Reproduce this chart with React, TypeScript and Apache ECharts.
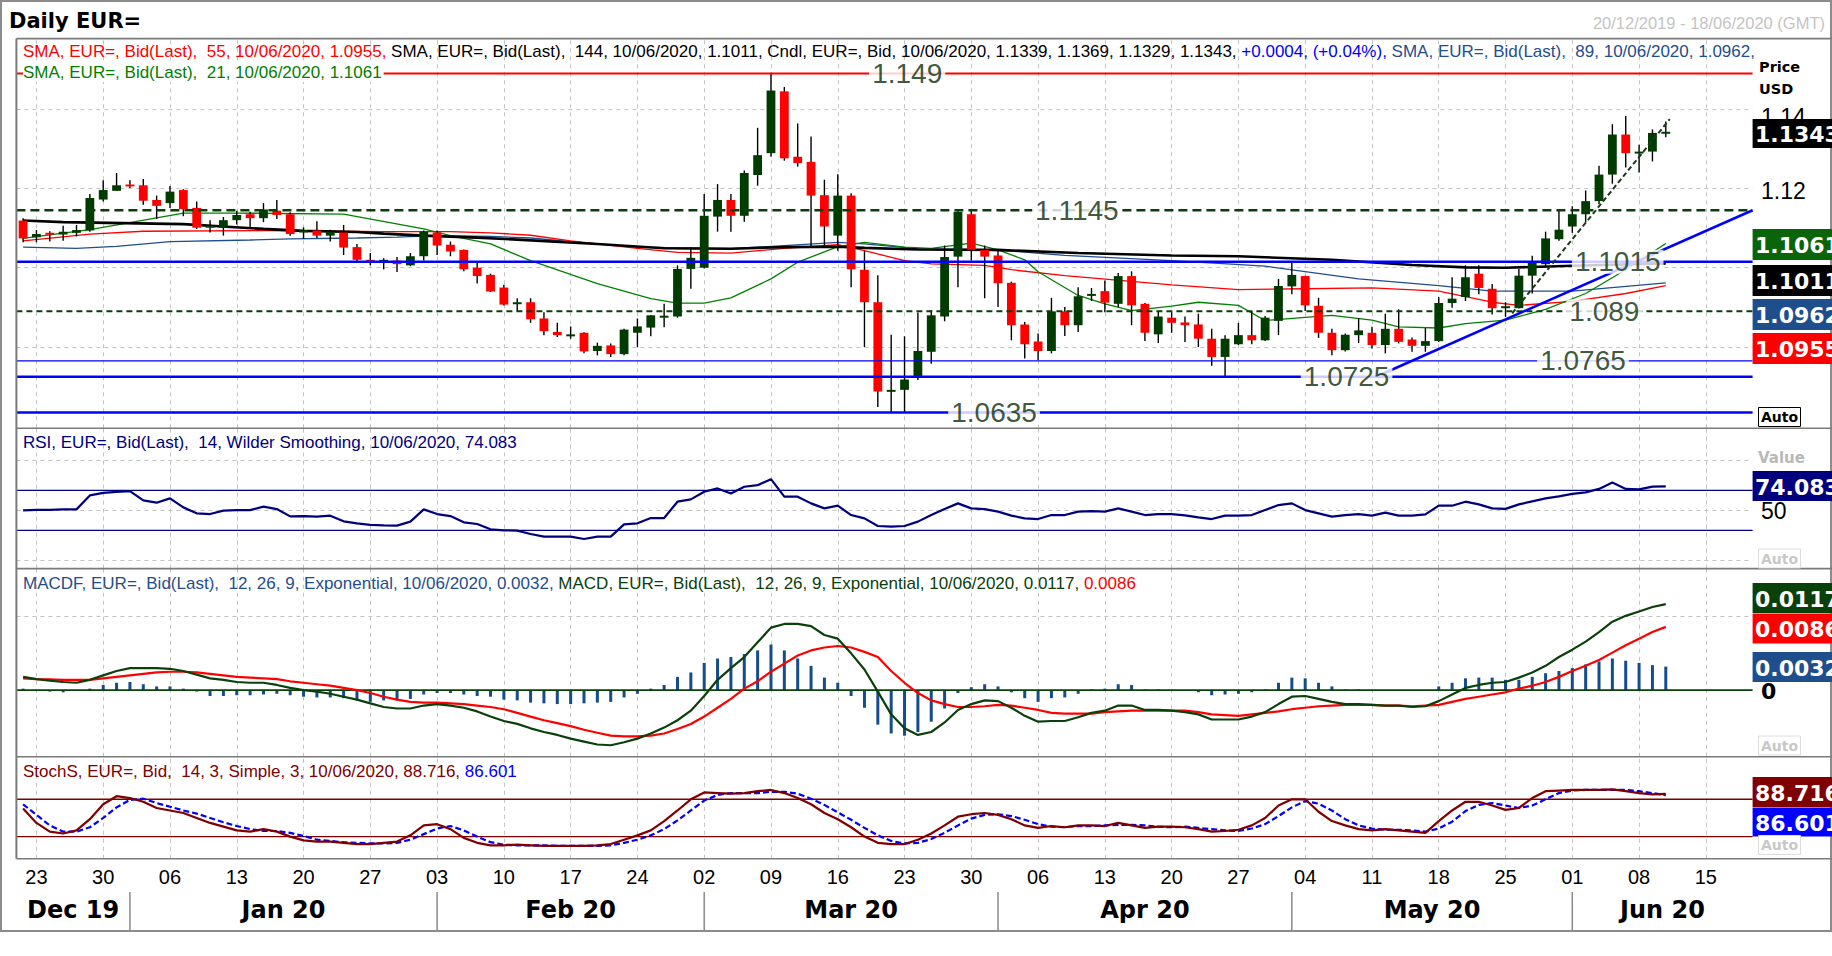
import React, { useEffect, useRef } from "react";
import * as echarts from "echarts";

const W = 1832;
const H = 956;

// ---------- categories: weekdays 20 Dec 2019 – 18 Jun 2020 ----------
const categories: string[] = [];
for (let t = Date.UTC(2019, 11, 20); t <= Date.UTC(2020, 5, 18); t += 86400000) {
  const d = new Date(t);
  const wd = d.getUTCDay();
  if (wd !== 0 && wd !== 6) categories.push(d.toISOString().slice(0, 10));
}
const mondays: number[] = categories
  .map((c, i) => (new Date(c + "T00:00:00Z").getUTCDay() === 1 ? i : -1))
  .filter((i) => i >= 0);
const dayLabels = categories.map((c) => c.slice(8, 10));
const monthNames = ["Dec 19", "Jan 20", "Feb 20", "Mar 20", "Apr 20", "May 20", "Jun 20"];

// ---------- price data ----------
const open = [
  1.1119, 1.1077, 1.1088, 1.1084, 1.1088, 1.1094, 1.1172, 1.1194, 1.121, 1.1208,
  1.1171, 1.1163, 1.1196, 1.1151, 1.1101, 1.1101, 1.112, 1.1135, 1.1125, 1.1144,
  1.1135, 1.1089, 1.1094, 1.1081, 1.1089, 1.1052, 1.102, 1.1017, 1.1018, 1.1006,
  1.1029, 1.1089, 1.1058, 1.1045, 1.1, 1.0982, 1.095, 1.0908, 1.0913, 1.0872,
  1.0838, 1.0832, 1.0836, 1.079, 1.0804, 1.0782, 1.0836, 1.0849, 1.0878, 1.0877,
  1.0997, 1.1, 1.1129, 1.1171, 1.1131, 1.1234, 1.1289, 1.1445, 1.128, 1.1267,
  1.1183, 1.1081, 1.1182, 1.0995, 1.0913, 1.0688, 1.0692, 1.0727, 1.0788, 1.0877,
  1.1028, 1.1135, 1.1045, 1.1031, 1.0962, 1.0857, 1.0814, 1.079, 1.089, 1.0855,
  1.0929, 1.0941, 1.0909, 1.0979, 1.0909, 1.0832, 1.0874, 1.0862, 1.0857, 1.0821,
  1.0775, 1.0807, 1.083, 1.0817, 1.0866, 1.0953, 1.0979, 1.0904, 1.0836, 1.0792,
  1.083, 1.0836, 1.0805, 1.0846, 1.0819, 1.0803, 1.0815, 1.0911, 1.0926, 1.0985,
  1.0947, 1.09, 1.0898, 1.098, 1.1009, 1.1072, 1.1104, 1.1135, 1.1168, 1.1235,
  1.1336, 1.1289, 1.1293, 1.1339,
];
const high = [
  1.1125, 1.1095, 1.1092, 1.1106, 1.1108, 1.1186, 1.1221, 1.1239, 1.1221, 1.1224,
  1.1182, 1.1206, 1.1198, 1.1167, 1.112, 1.1128, 1.1144, 1.1141, 1.1163, 1.1171,
  1.114, 1.1102, 1.1117, 1.1096, 1.1108, 1.106, 1.1037, 1.1024, 1.1027, 1.1037,
  1.1094, 1.1094, 1.1066, 1.1046, 1.1012, 1.0985, 1.0957, 1.0923, 1.0923, 1.0888,
  1.0861, 1.0852, 1.0837, 1.0811, 1.0809, 1.0846, 1.0872, 1.0881, 1.0909, 1.1006,
  1.1052, 1.1186, 1.1211, 1.1186, 1.1245, 1.1353, 1.1492, 1.1456, 1.1364, 1.1331,
  1.1222, 1.1236, 1.1188, 1.1043, 1.0981, 1.0831, 1.0827, 1.0887, 1.0893, 1.1056,
  1.1146, 1.1146, 1.1056, 1.1043, 1.0965, 1.0863, 1.0834, 1.0924, 1.0901, 1.0951,
  1.0949, 1.0968, 1.0987, 1.0991, 1.0911, 1.0891, 1.0888, 1.0877, 1.0884, 1.0846,
  1.083, 1.0861, 1.0891, 1.0878, 1.0972, 1.1014, 1.098, 1.0924, 1.0846, 1.0834,
  1.0873, 1.0851, 1.0884, 1.0895, 1.0824, 1.0848, 1.0926, 1.0976, 1.1006, 1.1006,
  1.0959, 1.0913, 1.0997, 1.103, 1.1091, 1.1145, 1.1155, 1.1195, 1.1257, 1.1362,
  1.1383, 1.131, 1.1349, 1.1369,
];
const low = [
  1.1064, 1.1064, 1.1066, 1.1068, 1.1079, 1.1091, 1.1167, 1.1194, 1.1201, 1.1159,
  1.1123, 1.1151, 1.113, 1.1098, 1.1089, 1.1081, 1.1109, 1.1102, 1.1115, 1.1123,
  1.1081, 1.1073, 1.1075, 1.1066, 1.1032, 1.1017, 1.1006, 1.0996, 1.0989, 1.1004,
  1.1018, 1.1032, 1.1029, 1.0991, 1.096, 1.0939, 1.0905, 1.0891, 1.0861, 1.083,
  1.0825, 1.0821, 1.0784, 1.0779, 1.0775, 1.0779, 1.08, 1.0827, 1.085, 1.0874,
  1.0947, 1.0998, 1.1091, 1.1091, 1.1116, 1.1207, 1.128, 1.127, 1.1255, 1.1052,
  1.1052, 1.1043, 1.0951, 1.08, 1.0649, 1.0635, 1.0635, 1.0717, 1.0758, 1.0865,
  1.0951, 1.1018, 1.0923, 1.0901, 1.0817, 1.0771, 1.0767, 1.0784, 1.0828, 1.0838,
  1.0916, 1.0888, 1.0901, 1.0855, 1.0815, 1.081, 1.0836, 1.0813, 1.08, 1.0753,
  1.0727, 1.0805, 1.0807, 1.0815, 1.083, 1.0933, 1.0891, 1.0823, 1.0779, 1.0789,
  1.081, 1.0796, 1.0784, 1.0809, 1.0788, 1.0788, 1.0813, 1.0899, 1.0916, 1.0933,
  1.0882, 1.0876, 1.0897, 1.0935, 1.1003, 1.1068, 1.1088, 1.1115, 1.116, 1.1212,
  1.1253, 1.124, 1.1268, 1.1329,
];
const close = [
  1.1074, 1.1085, 1.1087, 1.1091, 1.1095, 1.1176, 1.1196, 1.1208, 1.1206, 1.1169,
  1.1156, 1.1192, 1.1148, 1.1101, 1.1106, 1.112, 1.1133, 1.1125, 1.1147, 1.1133,
  1.1085, 1.1095, 1.1081, 1.1091, 1.1051, 1.102, 1.1017, 1.102, 1.1009, 1.1029,
  1.1091, 1.1056, 1.1041, 1.0996, 1.0979, 1.094, 1.0907, 1.0913, 1.087, 1.084,
  1.083, 1.0832, 1.0789, 1.0803, 1.0782, 1.0844, 1.0852, 1.088, 1.0879, 1.0997,
  1.1025, 1.1131, 1.1171, 1.1131, 1.1239, 1.1284, 1.1447, 1.1276, 1.1264, 1.1182,
  1.1104, 1.1182, 1.0996, 1.0913, 1.0688, 1.0692, 1.0718, 1.079, 1.088, 1.1027,
  1.1141, 1.1045, 1.1028, 1.0961, 1.0855, 1.0807, 1.079, 1.089, 1.0855, 1.0928,
  1.0934, 1.0912, 1.0979, 1.0905, 1.0836, 1.0877, 1.0861, 1.0855, 1.0821, 1.0775,
  1.0821, 1.083, 1.0817, 1.0874, 1.0954, 1.0982, 1.0905, 1.0836, 1.0792, 1.0831,
  1.0842, 1.0805, 1.0846, 1.0813, 1.0803, 1.0815, 1.0911, 1.0922, 1.0976, 1.0949,
  1.0898, 1.0903, 1.098, 1.1015, 1.1074, 1.1096, 1.1135, 1.1168, 1.1235, 1.1336,
  1.1289, 1.1293, 1.134, 1.1343,
];

// moving averages: [day index, value] vertices
const sma144 = [
  [0, 1.1119], [3, 1.1115], [12, 1.111], [18, 1.1098], [21, 1.1093], [25, 1.109], [27, 1.1086],
  [30, 1.1081], [34, 1.1076], [37, 1.1071], [43, 1.106], [48, 1.1049], [53, 1.1048], [57, 1.1052],
  [61, 1.1053], [63, 1.105], [67, 1.1046], [73, 1.1045], [79, 1.1037], [86, 1.1031], [91, 1.1029],
  [98, 1.102], [104, 1.1007], [108, 1.1001], [111, 1.1], [116, 1.1005], [123, 1.1011],
];
const sma55 = [
  [0, 1.1068], [5, 1.1085], [9, 1.1092], [18, 1.1094], [27, 1.1091], [32, 1.1091], [35, 1.1088],
  [38, 1.1082], [41, 1.1068], [46, 1.1049], [49, 1.1039], [53, 1.1037], [57, 1.1049], [61, 1.1058],
  [63, 1.1043], [66, 1.1018], [68, 1.101], [72, 1.1006], [74, 1.0995], [78, 1.098], [86, 1.0957],
  [91, 1.0945], [96, 1.0947], [101, 1.0949], [106, 1.0941], [110, 1.0913], [112, 1.0905],
  [116, 1.0915], [120, 1.0935], [123, 1.0955],
];
const sma89 = [
  [0, 1.1052], [4, 1.1049], [7, 1.1054], [11, 1.1066], [17, 1.107], [20, 1.1073], [25, 1.1075],
  [28, 1.1077], [31, 1.1081], [35, 1.1079], [38, 1.1075], [41, 1.1066], [46, 1.1052], [53, 1.1048],
  [57, 1.1056], [61, 1.1064], [63, 1.106], [67, 1.1048], [71, 1.1046], [74, 1.1042], [78, 1.1031],
  [86, 1.1018], [93, 1.1004], [100, 1.0972], [106, 1.0955], [110, 1.0941], [116, 1.0941], [123, 1.0962],
];
const sma21 = [
  [0, 1.1074], [5, 1.1096], [8, 1.1114], [12, 1.1138], [16, 1.1138], [24, 1.1135], [30, 1.1098],
  [32, 1.1081], [35, 1.106], [38, 1.1018], [43, 1.096], [47, 1.0922], [49, 1.0911], [51, 1.0911],
  [53, 1.0924], [56, 1.0972], [58, 1.1014], [61, 1.1053], [63, 1.1064], [66, 1.1052], [68, 1.1049],
  [71, 1.1062], [73, 1.1045], [75, 1.102], [76, 1.099], [79, 1.093], [81, 1.0909], [83, 1.0892],
  [86, 1.0903], [88, 1.0913], [91, 1.0905], [93, 1.0867], [96, 1.0875], [98, 1.088], [101, 1.0868],
  [103, 1.0851], [106, 1.0848], [108, 1.0859], [111, 1.0868], [114, 1.0895], [117, 1.0935],
  [120, 1.0995], [123, 1.1061],
];

// analyst drawings
const levelPrices = [1.149, 1.1145, 1.1015, 1.089, 1.0765, 1.0725, 1.0635];
const levelTexts = ["1.149", "1.1145", "1.1015", "1.089", "1.0765", "1.0725", "1.0635"];
const blueTrend = [[101.3, 1.0725], [129.5, 1.1145]];
const dashTrend = [[111.5, 1.0885], [123.3, 1.1375]];

// indicators
const rsi = [
  50, 50.5, 50.5, 51, 51, 65, 67.5, 68.5, 69.3, 60,
  57.7, 62, 53, 47, 46.3, 49.7, 50.2, 50.3, 53.7, 51.3,
  44, 44.3, 43.7, 44.7, 39, 37, 35.5, 35, 34.7, 38.7,
  51, 46.3, 44.3, 38, 36.3, 31, 30, 29.7, 26.3, 23.7,
  23.7, 23.7, 21.3, 23.7, 23.7, 36, 37, 42.3, 42.3, 58.7,
  61, 68.7, 72, 67, 73.7, 75.3, 81.3, 63.7, 63.7, 57,
  52, 54.7, 45.3, 42, 34.3, 33.7, 34.3, 38.7, 45.3, 51.3,
  57, 52, 51.3, 48.7, 44.7, 42, 41.3, 45.3, 45.3, 48.7,
  49.3, 48.7, 52, 48.7, 45.3, 46.3, 46.3, 45, 43, 41.3,
  44.7, 44.7, 45.3, 50.3, 55.3, 57, 50.3, 47, 43.7, 45.3,
  46.3, 44.7, 47.7, 44.7, 44.7, 46, 54.7, 54.7, 58.7, 56,
  52, 51.5, 56, 59, 62, 64, 66.5, 68, 71.5, 78,
  71.5, 71, 73.8, 74.083,
];
const macd = [
  0.0018, 0.0015, 0.0013, 0.0011, 0.001, 0.0014, 0.002, 0.0026, 0.003, 0.003,
  0.003, 0.0029, 0.0026, 0.0021, 0.0016, 0.0014, 0.0011, 0.001, 0.001, 0.0007,
  0.0003, 0.0, -0.0002, -0.0005, -0.0009, -0.0013, -0.0018, -0.0023, -0.0025, -0.0025,
  -0.0021, -0.0019, -0.0021, -0.0024, -0.0029, -0.0036, -0.0042, -0.0046, -0.0052, -0.0057,
  -0.0061, -0.0066, -0.007, -0.0074, -0.0075, -0.0071, -0.0066, -0.0059, -0.0051, -0.0041,
  -0.0028, -0.0008, 0.0014, 0.003, 0.0045, 0.0065, 0.0085, 0.009, 0.009, 0.0087,
  0.0075, 0.007, 0.005, 0.0028, -0.0002, -0.0033, -0.0052, -0.0061, -0.0057, -0.0044,
  -0.0027, -0.0019, -0.0014, -0.0015, -0.0024, -0.0035, -0.0043, -0.0042, -0.0042, -0.0037,
  -0.0031, -0.0028, -0.0021, -0.0021, -0.0027, -0.0027, -0.0028, -0.003, -0.0033, -0.004,
  -0.004, -0.004, -0.0036, -0.003, -0.0019, -0.0009, -0.0008, -0.0012, -0.0016, -0.0019,
  -0.0019, -0.002, -0.0021, -0.0021, -0.0023, -0.0022, -0.0015, -0.0006, 0.0003, 0.0007,
  0.001, 0.0011, 0.0017, 0.0024, 0.0033, 0.0045, 0.0055, 0.0066, 0.0079, 0.0093,
  0.0101, 0.0107, 0.0113, 0.0117,
];
const signal = [
  0.0016, 0.0015, 0.00145, 0.0014, 0.0014, 0.0014, 0.0016, 0.0018, 0.002, 0.0022,
  0.0024, 0.0025, 0.0025, 0.0024, 0.0022, 0.002, 0.0018, 0.0017, 0.0016, 0.0015,
  0.0012, 0.001, 0.0008, 0.0006, 0.0003, 0.0, -0.0004, -0.0009, -0.0013, -0.0016,
  -0.0017, -0.0017, -0.0018, -0.0019, -0.0021, -0.0023, -0.0026, -0.0031, -0.0036, -0.0041,
  -0.0045, -0.0049, -0.0054, -0.0058, -0.0062, -0.0063, -0.0063, -0.0062, -0.0059, -0.0053,
  -0.0046, -0.0036, -0.0024, -0.0012, 0.0002, 0.0012, 0.0025, 0.0036, 0.0047, 0.0054,
  0.0058, 0.006, 0.0058, 0.0052, 0.0045, 0.0026, 0.001, -0.0004, -0.0014, -0.0019,
  -0.0023, -0.0023, -0.0022, -0.002, -0.0021, -0.0024, -0.0027, -0.0031, -0.0032, -0.0032,
  -0.0032, -0.003, -0.0029, -0.0028, -0.0028, -0.0028, -0.0028, -0.0028, -0.003, -0.0033,
  -0.0034, -0.0035, -0.0033, -0.0031, -0.0029, -0.0026, -0.0024, -0.0022, -0.0021, -0.002,
  -0.002, -0.002, -0.0021, -0.0021, -0.0022, -0.0021, -0.002, -0.0016, -0.0012, -0.0009,
  -0.0006, -0.0003, 0.0002, 0.0006, 0.0011, 0.0018, 0.0026, 0.0033, 0.0041, 0.0051,
  0.0061, 0.007, 0.0079, 0.0086,
];
const hist = [
  0.0002, -0.0001, -0.0002, -0.0003, 0.0, 0.0002, 0.0007, 0.001, 0.0011, 0.0008,
  0.0005, 0.0005, 0.0002, -0.0002, -0.0008, -0.0008, -0.0007, -0.0007, -0.0006, -0.0005,
  -0.0007, -0.0009, -0.001, -0.001, -0.0011, -0.0014, -0.0016, -0.0014, -0.0014, -0.0012,
  -0.0006, -0.0004, -0.0004, -0.0006, -0.0008, -0.0009, -0.0013, -0.0014, -0.0017, -0.0018,
  -0.0019, -0.0019, -0.0018, -0.0017, -0.0016, -0.001, -0.0005, 0.0002, 0.0007, 0.0018,
  0.0024, 0.0037, 0.0043, 0.0045, 0.0049, 0.0054, 0.0062, 0.0054, 0.0043, 0.0033,
  0.0017, 0.001, -0.0008, -0.0024, -0.0047, -0.0059, -0.0062, -0.0057, -0.0043, -0.0025,
  -0.0004, 0.0004, 0.0008, 0.0005, -0.0003, -0.0011, -0.0016, -0.0011, -0.001, -0.0005,
  0.0001, 0.0002, 0.0008, 0.0007, 0.0001, 0.0001, 0.0, -0.0001, -0.0003, -0.0007,
  -0.0006, -0.0005, -0.0003, 0.0001, 0.001, 0.0017, 0.0016, 0.001, 0.0005, 0.0001,
  0.0001, 0.0, 0.0, 0.0, -0.0001, -0.0001, 0.0005, 0.001, 0.0016, 0.0017,
  0.0017, 0.0014, 0.0014, 0.0018, 0.0023, 0.0026, 0.003, 0.0035, 0.0039, 0.0043,
  0.004, 0.0037, 0.0034, 0.0032,
];
const stochK = [
  65, 42, 28, 25, 30, 48, 72, 85, 82, 76,
  66, 62, 58, 50, 42, 36, 30, 28, 32, 28,
  20, 14, 12, 12, 10, 8, 8, 10, 12, 22,
  38, 40, 32, 18, 10, 6, 6, 7, 6, 5,
  5, 5, 5, 6, 8, 15, 22, 30, 45, 62,
  80, 91, 90, 89, 90, 93, 95, 90, 82, 72,
  58, 48, 35, 20, 10, 8, 8, 15, 25, 38,
  52, 56, 58, 55, 48, 38, 34, 37, 35, 38,
  38, 37, 42, 38, 34, 36, 36, 35, 32, 28,
  29, 31, 38, 50, 70, 80, 80, 60, 45, 38,
  32, 30, 32, 30, 28, 26, 45, 62, 76, 76,
  70, 63, 66, 82, 93, 94, 95, 95, 95, 96,
  93, 90, 88, 88.716,
];
const stochD = [
  72, 55, 38, 28, 28, 35, 50, 67, 79, 81,
  74, 68, 62, 57, 50, 43, 37, 32, 29, 29,
  26, 21, 15, 13, 11, 10, 9, 9, 10, 15,
  24, 33, 37, 30, 20, 11, 7, 6, 6, 6,
  5, 5, 5, 5, 6, 10, 15, 22, 32, 46,
  62, 78, 87, 90, 90, 90, 92, 92, 89, 81,
  71, 59, 47, 34, 22, 13, 9, 10, 16, 26,
  38, 49, 55, 56, 53, 47, 40, 36, 35, 37,
  37, 38, 39, 39, 38, 36, 35, 36, 34, 32,
  30, 29, 33, 40, 53, 67, 77, 73, 62, 48,
  38, 33, 31, 31, 30, 28, 33, 44, 61, 71,
  74, 70, 66, 70, 80, 90, 94, 95, 95, 95,
  95, 93, 90, 86.601,
];

// ---------- text ----------
const titleText = "Daily EUR=";
const rangeText = "20/12/2019 - 18/06/2020 (GMT)";
const header1 =
  "{r|SMA, EUR=, Bid(Last),  55, 10/06/2020, 1.0955,} {k|SMA, EUR=, Bid(Last),  144, 10/06/2020, 1.1011, Cndl, EUR=, Bid, 10/06/2020, 1.1339, 1.1369, 1.1329, 1.1343,} {b|+0.0004, (+0.04%),} {n|SMA, EUR=, Bid(Last),  89, 10/06/2020, 1.0962,}";
const header2 = "SMA, EUR=, Bid(Last),  21, 10/06/2020, 1.1061";
const rsiTitle = "RSI, EUR=, Bid(Last),  14, Wilder Smoothing, 10/06/2020, 74.083";
const macdTitle =
  "{n|MACDF, EUR=, Bid(Last),  12, 26, 9, Exponential, 10/06/2020, 0.0032,} {g|MACD, EUR=, Bid(Last),  12, 26, 9, Exponential, 10/06/2020, 0.0117,} {r|0.0086}";
const stochTitle = "{d|StochS, EUR=, Bid,  14, 3, Simple, 3, 10/06/2020, 88.716,} {b|86.601}";
const valueBoxes = [
  { text: "1.1343", bg: "#000000", y: 119, h: 29 },
  { text: "1.1061", bg: "#0a640a", y: 229, h: 31 },
  { text: "1.1011", bg: "#000000", y: 265, h: 31 },
  { text: "1.0962", bg: "#1f4e8c", y: 299, h: 31 },
  { text: "1.0955", bg: "#ff0000", y: 333, h: 31 },
  { text: "74.083", bg: "#00007f", y: 471, h: 30 },
  { text: "0.0117", bg: "#0a400a", y: 583, h: 30 },
  { text: "0.0086", bg: "#ff0000", y: 613.5, h: 30 },
  { text: "0.0032", bg: "#1f4e8c", y: 652, h: 30 },
  { text: "88.716", bg: "#800000", y: 777, h: 30 },
  { text: "86.601", bg: "#0000ff", y: 807.5, h: 29 },
];

// ---------- layout ----------
const PL = 16.4;
const PR = 1752.6;
const panes = [
  { top: 38.6, bottom: 428.3, min: 1.0595, max: 1.1578 },
  { top: 428.3, bottom: 568.6, min: -8.4, max: 132.3 },
  { top: 568.6, bottom: 756.7, min: -0.00906, max: 0.01653 },
  { top: 756.7, bottom: 858.8, min: -15.7, max: 148.5 },
];
const levelStyles = [
  { color: "#ff0000", width: 2, type: "solid" },
  { color: "#0a3f0a", width: 2.6, type: [9, 5] },
  { color: "#0000ff", width: 2.5, type: "solid" },
  { color: "#0a3f0a", width: 2, type: [6, 4] },
  { color: "#0000ff", width: 1.3, type: "solid" },
  { color: "#0000ff", width: 2.5, type: "solid" },
  { color: "#0000ff", width: 2.5, type: "solid" },
];
const levelLabelAt = [66.2, 78.9, 119.4, 118.4, 116.8, 99.1, 72.7];
const FONT = "Liberation Sans";
const BOLD = "DejaVu Sans";
const HF = 17;

function hline(g: number, v: number, color: string, width: number, type: any, z = 4) {
  return {
    type: "line",
    xAxisIndex: 4 + g,
    yAxisIndex: g,
    data: [[-0.5, v], [129.5, v]],
    symbol: "none",
    silent: true,
    z,
    lineStyle: { color, width, type },
  };
}

function gridHost(g: number, hs: number[]) {
  return {
    type: "line",
    xAxisIndex: 4 + g,
    yAxisIndex: g,
    data: [[-0.5, panes[g].min], [-0.5, panes[g].min]],
    symbol: "none",
    silent: true,
    z: 0,
    lineStyle: { opacity: 0 },
    markLine: {
      silent: true,
      z: 0,
      symbol: ["none", "none"],
      label: { show: false },
      animation: false,
      lineStyle: { color: "#c4c4c4", width: 1, type: [4, 4] },
      data: [...mondays.map((m) => ({ xAxis: m })), ...hs.map((v) => ({ yAxis: v }))],
    },
  };
}

function maLine(data: number[][], color: string, width: number) {
  return {
    type: "line",
    xAxisIndex: 4,
    yAxisIndex: 0,
    data,
    symbol: "none",
    silent: true,
    z: 2,
    lineStyle: { color, width },
  };
}

function buildOption() {
  const grid = panes.map((p) => ({
    left: PL,
    right: W - PR,
    top: p.top,
    height: p.bottom - p.top,
    show: false,
    containLabel: false,
    outerBoundsMode: "none",
  }));
  const xAxis: any[] = [];
  for (let g = 0; g < 4; g++) {
    xAxis.push({
      type: "category",
      gridIndex: g,
      data: categories,
      boundaryGap: true,
      show: g === 3,
      axisLine: { show: false },
      axisTick: { show: false },
      splitLine: { show: false },
      axisLabel: {
        show: g === 3,
        interval: (i: number) => mondays.indexOf(i) >= 0,
        formatter: (_v: string, i: number) => dayLabels[i],
        color: "#000",
        fontSize: 20,
        fontFamily: FONT,
        margin: 8,
      },
    });
  }
  for (let g = 0; g < 4; g++) {
    xAxis.push({ type: "value", gridIndex: g, min: -0.5, max: 129.5, show: false });
  }
  const yAxis = panes.map((p, g) => ({
    type: "value",
    gridIndex: g,
    min: p.min,
    max: p.max,
    show: false,
    splitLine: { show: false },
  }));

  const candleData = close.map((c, i) => [i, open[i], c, low[i], high[i]]);

  const series: any[] = [
    gridHost(0, [1.08, 1.1, 1.12, 1.14]),
    gridHost(1, [0, 50, 100]),
    gridHost(2, [0.01]),
    gridHost(3, []),
    maLine(sma89, "#1f4e8c", 1.3),
    maLine(sma55, "#ff0000", 1.3),
    maLine(sma21, "#008000", 1.3),
    maLine(sma144, "#000000", 2.6),
    {
      type: "custom",
      xAxisIndex: 0,
      yAxisIndex: 0,
      data: candleData,
      encode: { x: 0, y: [1, 2, 3, 4] },
      silent: true,
      z: 3,
      renderItem: (_params: any, api: any) => {
        const i = api.value(0);
        const o = api.value(1);
        const c = api.value(2);
        const l = api.value(3);
        const h = api.value(4);
        const pO = api.coord([i, o]);
        const pC = api.coord([i, c]);
        const pL = api.coord([i, l]);
        const pH = api.coord([i, h]);
        const bw = api.size([1, 0])[0] * 0.66;
        const x = pO[0];
        const top = Math.min(pO[1], pC[1]);
        let hh = Math.abs(pO[1] - pC[1]);
        if (hh < 2) hh = 2;
        return {
          type: "group",
          children: [
            { type: "line", shape: { x1: x, y1: pH[1], x2: x, y2: pL[1] }, style: { stroke: "#000", lineWidth: 1.4 } },
            { type: "rect", shape: { x: x - bw / 2, y: top, width: bw, height: hh }, style: { fill: c >= o ? "#003c00" : "#ff0000" } },
          ],
        };
      },
    },
    ...levelPrices.map((p, k) => hline(0, p, levelStyles[k].color, levelStyles[k].width, levelStyles[k].type, 4)),
    {
      type: "line",
      xAxisIndex: 4,
      yAxisIndex: 0,
      data: blueTrend,
      symbol: "none",
      silent: true,
      z: 4,
      lineStyle: { color: "#0000ff", width: 2.6 },
    },
    {
      type: "line",
      xAxisIndex: 4,
      yAxisIndex: 0,
      data: dashTrend,
      symbol: "none",
      silent: true,
      z: 4,
      lineStyle: { color: "#1a3a1a", width: 2, type: [5, 3] },
    },
    {
      type: "scatter",
      xAxisIndex: 4,
      yAxisIndex: 0,
      symbolSize: 1,
      silent: true,
      z: 6,
      itemStyle: { color: "rgba(0,0,0,0)" },
      data: levelPrices.map((p, k) => ({ value: [levelLabelAt[k], p], label: { formatter: levelTexts[k] } })),
      label: {
        show: true,
        position: "inside",
        color: "#0a2c0a",
        fontSize: 28,
        fontFamily: FONT,
        backgroundColor: "#ffffff",
        padding: [0, 3],
        lineHeight: 24,
      },
    },
    // RSI
    hline(1, 70, "#00007f", 1.2, "solid", 2),
    hline(1, 30, "#00007f", 1.2, "solid", 2),
    {
      type: "line",
      xAxisIndex: 1,
      yAxisIndex: 1,
      data: rsi,
      symbol: "none",
      silent: true,
      z: 3,
      lineStyle: { color: "#00007f", width: 2.2 },
    },
    // MACD
    hline(2, 0, "#0a400a", 1.6, "solid", 2),
    {
      type: "bar",
      xAxisIndex: 2,
      yAxisIndex: 2,
      data: hist,
      barWidth: 3,
      silent: true,
      z: 2,
      itemStyle: { color: "#144c8c" },
    },
    {
      type: "line",
      xAxisIndex: 2,
      yAxisIndex: 2,
      data: signal,
      symbol: "none",
      silent: true,
      z: 3,
      lineStyle: { color: "#ff0000", width: 2.2 },
    },
    {
      type: "line",
      xAxisIndex: 2,
      yAxisIndex: 2,
      data: macd,
      symbol: "none",
      silent: true,
      z: 3,
      lineStyle: { color: "#0a400a", width: 2.2 },
    },
    // Stochastic
    hline(3, 80, "#800000", 1.4, "solid", 2),
    hline(3, 20, "#800000", 1.4, "solid", 2),
    {
      type: "line",
      xAxisIndex: 3,
      yAxisIndex: 3,
      data: stochD,
      symbol: "none",
      silent: true,
      z: 3,
      lineStyle: { color: "#0000ff", width: 2.2, type: [6, 3] },
    },
    {
      type: "line",
      xAxisIndex: 3,
      yAxisIndex: 3,
      data: stochK,
      symbol: "none",
      silent: true,
      z: 3,
      lineStyle: { color: "#800000", width: 2.2 },
    },
  ];

  return {
    animation: false,
    backgroundColor: "#ffffff",
    grid,
    xAxis,
    yAxis,
    series,
  };
}

function txt(x: number, y: number, text: string, o: any = {}) {
  return {
    type: "text",
    x,
    y,
    z: o.z ?? 50,
    silent: true,
    style: {
      text,
      fill: o.fill ?? "#000",
      fontSize: o.fontSize ?? HF,
      fontFamily: o.fontFamily ?? FONT,
      fontWeight: o.fontWeight ?? "normal",
      align: o.align ?? "left",
      textAlign: o.align ?? "left",
      verticalAlign: "middle",
      textVerticalAlign: "middle",
      backgroundColor: o.bg,
      padding: o.padding,
      rich: o.rich,
    },
  };
}

const rs = (c: string) => ({ fill: c, color: c, fontSize: HF, fontFamily: FONT });

export default function App() {
  const ref = useRef<HTMLDivElement>(null);
  useEffect(() => {
    const chart = echarts.init(ref.current as HTMLDivElement, null, { renderer: "svg", width: W, height: H });
    chart.setOption(buildOption());

    const xAt = (i: number) => chart.convertToPixel({ xAxisIndex: 7 } as any, i) as unknown as number;
    const yAt = (g: number, v: number) => chart.convertToPixel({ yAxisIndex: g } as any, v) as unknown as number;

    const gfx: any[] = [];
    const gray = "#7a7a7a";
    // frame and pane separators
    gfx.push({ type: "rect", z: 40, silent: true, shape: { x: 1, y: 1, width: W - 2, height: 930 }, style: { fill: "none", stroke: "#8c8c8c", lineWidth: 2 } });
    gfx.push({ type: "line", z: 40, silent: true, shape: { x1: PL, y1: panes[0].top, x2: PL, y2: panes[3].bottom }, style: { stroke: gray, lineWidth: 2 } });
    [panes[0].top, panes[1].top, panes[2].top, panes[3].top, panes[3].bottom].forEach((y) =>
      gfx.push({ type: "line", z: 40, silent: true, shape: { x1: PL, y1: y, x2: W, y2: y }, style: { stroke: gray, lineWidth: 1.6 } })
    );

    // titles
    gfx.push(txt(9, 20.5, titleText, { fontSize: 21, fontFamily: BOLD, fontWeight: "bold" }));
    gfx.push(txt(1825, 23, rangeText, { fill: "#c4c4c4", fontSize: 16.5, align: "right" }));
    gfx.push(
      txt(23, 51.4, header1, {
        rich: { r: rs("#ff0000"), k: rs("#000000"), b: rs("#0000ff"), n: rs("#1f4e8c") },
      })
    );
    gfx.push(txt(23, 72.6, header2, { fill: "#008000", bg: "#ffffff", padding: [1, 2, 1, 0] }));
    gfx.push(txt(23, 442.8, rsiTitle, { fill: "#00007f" }));
    gfx.push(txt(23, 583, macdTitle, { rich: { n: rs("#1f4e8c"), g: rs("#0a400a"), r: rs("#ff0000") } }));
    gfx.push(txt(23, 771.3, stochTitle, { rich: { d: rs("#800000"), b: rs("#0000ff") } }));

    // right axis
    gfx.push(txt(1759, 66.6, "Price", { fontSize: 14.5, fontFamily: BOLD, fontWeight: "bold" }));
    gfx.push(txt(1759, 88.8, "USD", { fontSize: 14.5, fontFamily: BOLD, fontWeight: "bold" }));
    gfx.push(txt(1761, yAt(0, 1.14) + 8, "1.14", { fontSize: 23 }));
    gfx.push(txt(1761, yAt(0, 1.12) + 3, "1.12", { fontSize: 23 }));
    gfx.push(txt(1761, yAt(1, 50) + 1, "50", { fontSize: 23 }));
    gfx.push(txt(1761, yAt(2, 0) + 1, "0", { fontSize: 22, fontFamily: BOLD, fontWeight: "bold" }));
    gfx.push(txt(1758, 458, "Value", { fill: "#b8b8b8", fontSize: 15, fontFamily: BOLD, fontWeight: "bold" }));
    valueBoxes.forEach((b) => {
      gfx.push({ type: "rect", z: 60, silent: true, shape: { x: PR, y: b.y, width: W - PR, height: b.h }, style: { fill: b.bg } });
      gfx.push({ ...txt(1755, b.y + b.h / 2 + 1, b.text, { fill: "#ffffff", fontSize: 22, fontFamily: BOLD, fontWeight: "bold" }), z: 61 });
    });
    const autoBox = (y: number, active: boolean) => {
      gfx.push({
        type: "rect",
        z: 60,
        silent: true,
        shape: { x: 1758.5, y: y - 9.5, width: 42, height: 19 },
        style: { fill: "#ffffff", stroke: active ? "#000000" : "#dcdcdc", lineWidth: 1 },
      });
      gfx.push({ ...txt(1779.5, y, "Auto", { fill: active ? "#000000" : "#c8c8c8", fontSize: 14, fontFamily: BOLD, fontWeight: "bold", align: "center" }), z: 61 });
    };
    autoBox(417, true);
    autoBox(558.5, false);
    autoBox(745.5, false);
    autoBox(845, false);

    // month separators and labels on the date axis
    const bounds = [-0.5, 8, 31, 51, 73, 95, 116, 129.5];
    for (let k = 1; k < bounds.length - 1; k++) {
      const x = xAt(bounds[k]);
      gfx.push({ type: "line", z: 40, silent: true, shape: { x1: x, y1: 892, x2: x, y2: 931 }, style: { stroke: "#8a8a8a", lineWidth: 1.5 } });
    }
    for (let k = 0; k < monthNames.length; k++) {
      const x = xAt((bounds[k] + bounds[k + 1]) / 2);
      gfx.push(txt(x, 910, monthNames[k], { fontSize: 24, fontFamily: BOLD, fontWeight: "bold", align: "center" }));
    }

    chart.setOption({ graphic: gfx });
    return () => chart.dispose();
  }, []);
  return <div ref={ref} style={{ position: "absolute", left: 0, top: 0, width: W, height: H, background: "#fff" }} />;
}
